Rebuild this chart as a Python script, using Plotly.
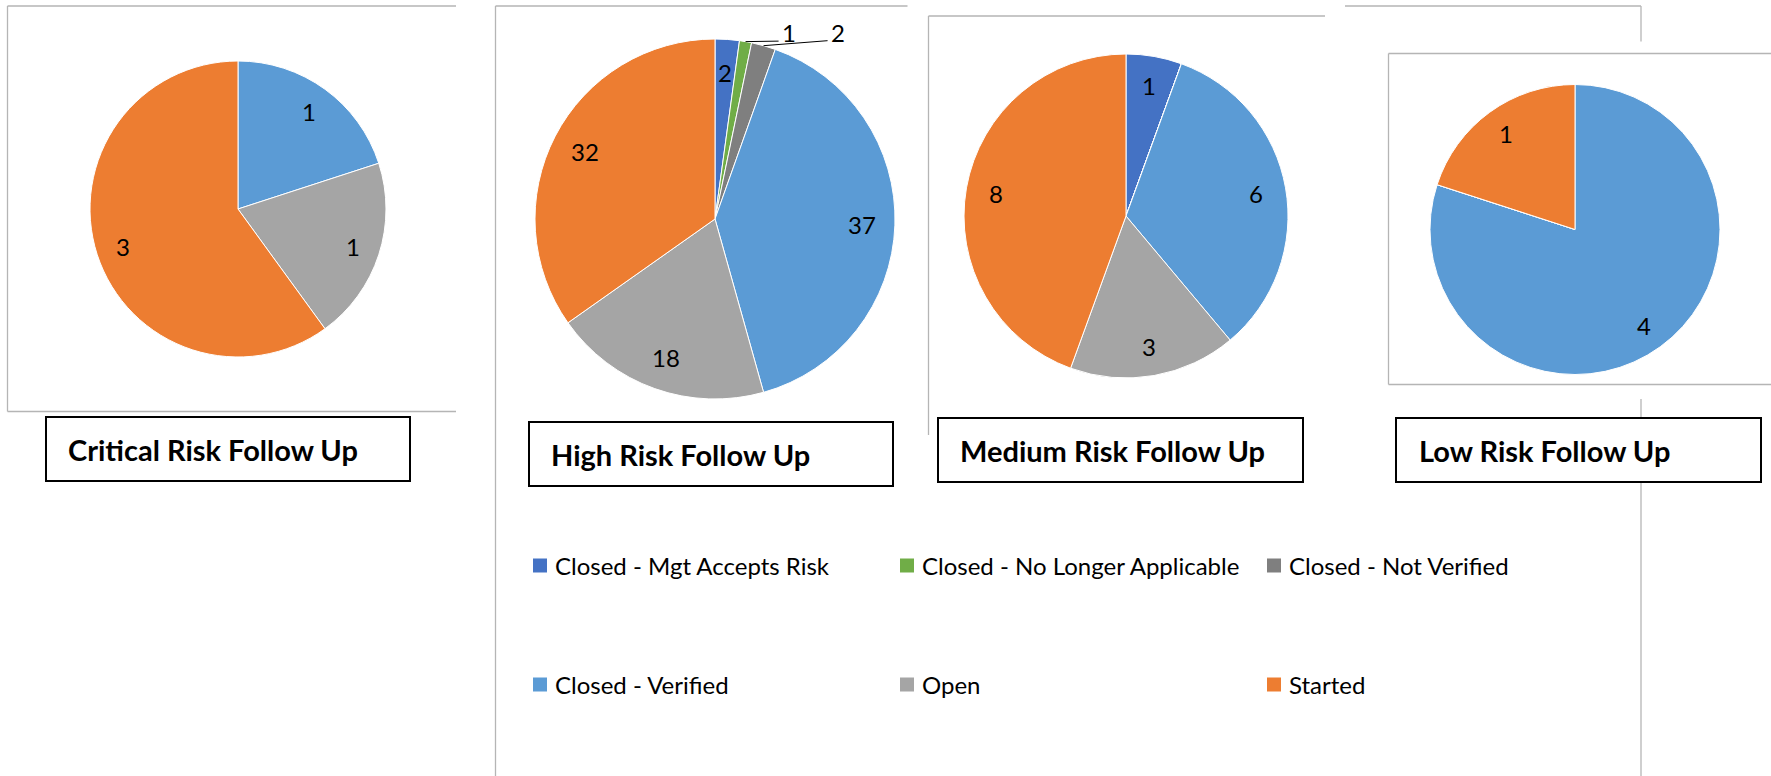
import math
import plotly.graph_objects as go

# ---------------- data ----------------
categories = ["Closed - Mgt Accepts Risk", "Closed - No Longer Applicable", "Closed - Not Verified",
              "Closed - Verified", "Open", "Started"]
critical_values = [0, 0, 0, 1, 1, 3]
high_values = [2, 1, 2, 37, 18, 32]
medium_values = [1, 0, 0, 6, 3, 8]
low_values = [0, 0, 0, 4, 0, 1]
chart_titles = ["Critical Risk Follow Up", "High Risk Follow Up", "Medium Risk Follow Up", "Low Risk Follow Up"]

# ---------------- style ----------------
colors = ["#4472C4", "#70AD47", "#7F7F7F", "#5B9BD5", "#A5A5A5", "#ED7D31"]
W, H = 1771, 776
FONT = "Lato, 'Open Sans', sans-serif"
FRAME = "#b5b5b5"
LABEL_SIZE = 24
LEGEND_SIZE = 24
TITLE_SIZE = 29

def px(x):
    return x / W

def py(y):
    return 1 - y / H

# pie centre / radius in pixels
pie_geom = [(238, 209, 148), (715, 219, 180), (1126, 216, 162), (1575, 229.5, 145)]
# title boxes: x0, y0, x1, y1, text-left
title_boxes = [(46, 417, 410, 481, 66), (529, 422, 893, 486, 549),
               (938, 418, 1303, 482, 958), (1396, 418, 1761, 482, 1417)]
# slices labelled outside with a leader line: (chart index, category index, dx, dy)
outside_labels = [(1, 1, 43, -9), (1, 2, 74, -13.5)]
LABEL_R = 0.815

series = [critical_values, high_values, medium_values, low_values]

fig = go.Figure()
annotations = []
shapes = []

for k, vals in enumerate(series):
    cx, cy, r = pie_geom[k]
    fig.add_trace(go.Pie(
        labels=categories, values=vals, sort=False, direction="clockwise", rotation=0,
        marker=dict(colors=colors, line=dict(color="white", width=1)),
        textinfo="none", showlegend=False, hoverinfo="label+value",
        domain=dict(x=[px(cx - r), px(cx + r)], y=[py(cy + r), py(cy - r)]),
    ))
    total = sum(vals)
    cum = 0
    outs = {c: (dx, dy) for (kk, c, dx, dy) in outside_labels if kk == k}
    for i, v in enumerate(vals):
        a0 = cum / total * 360
        cum += v
        a1 = cum / total * 360
        if v == 0:
            continue
        mid = math.radians((a0 + a1) / 2)
        if i in outs:
            ex = cx + r * math.sin(mid)
            ey = cy - r * math.cos(mid)
            dx, dy = outs[i]
            tx, ty = ex + dx, ey + dy
            shapes.append(dict(type="line", xref="paper", yref="paper",
                               x0=px(ex), y0=py(ey), x1=px(tx - 10), y1=py(ty + 8.5),
                               line=dict(color="black", width=1)))
        else:
            tx = cx + LABEL_R * r * math.sin(mid)
            ty = cy - LABEL_R * r * math.cos(mid)
        annotations.append(dict(x=px(tx), y=py(ty), xref="paper", yref="paper",
                                xanchor="center", yanchor="middle",
                                text=str(v), showarrow=False,
                                font=dict(family=FONT, size=LABEL_SIZE, color="black")))

# frames
frame_lines = [
    (7.5, 6, 7.5, 411.5), (7.5, 6, 456, 6), (7.5, 411.5, 456, 411.5),
    (495.5, 6, 495.5, 776), (495.5, 6, 907.5, 6),
    (928.5, 16, 928.5, 435), (928.5, 16, 1325, 16),
    (1345, 6, 1641, 6), (1641, 6, 1641, 41.5), (1641, 399, 1641, 418), (1641, 482, 1641, 776),
    (1388.5, 53.5, 1771, 53.5), (1388.5, 53.5, 1388.5, 384.5), (1388.5, 384.5, 1771, 384.5),
]
for x0, y0, x1, y1 in frame_lines:
    shapes.append(dict(type="line", xref="paper", yref="paper",
                       x0=px(x0), y0=py(y0), x1=px(x1), y1=py(y1),
                       line=dict(color=FRAME, width=1.3), layer="below"))

# title boxes
for k, (x0, y0, x1, y1, tl) in enumerate(title_boxes):
    shapes.append(dict(type="rect", xref="paper", yref="paper",
                       x0=px(x0), y0=py(y0), x1=px(x1), y1=py(y1),
                       line=dict(color="black", width=2), fillcolor="white", layer="below"))
    annotations.append(dict(x=px(tl), y=py((y0 + y1) / 2), xref="paper", yref="paper",
                            xanchor="left", yanchor="middle", showarrow=False,
                            text="<b>" + chart_titles[k] + "</b>",
                            font=dict(family=FONT, size=TITLE_SIZE, color="black")))

# legend (3 columns x 2 rows)
leg_cols = [533, 900, 1267]
leg_rows = [565.5, 684.5]
MK = 14
for i, cat in enumerate(categories):
    col = i % 3
    row = i // 3
    mx = leg_cols[col]
    my = leg_rows[row]
    shapes.append(dict(type="rect", xref="paper", yref="paper",
                       x0=px(mx), y0=py(my - MK / 2), x1=px(mx + MK), y1=py(my + MK / 2),
                       line=dict(width=0), fillcolor=colors[i]))
    annotations.append(dict(x=px(mx + 20), y=py(my), xref="paper", yref="paper",
                            xanchor="left", yanchor="middle", showarrow=False, text=cat,
                            font=dict(family=FONT, size=LEGEND_SIZE, color="black")))

fig.update_layout(
    width=W, height=H, margin=dict(l=0, r=0, t=0, b=0),
    paper_bgcolor="white", plot_bgcolor="white",
    shapes=shapes, annotations=annotations, showlegend=False,
)

fig.write_html("out.html")
